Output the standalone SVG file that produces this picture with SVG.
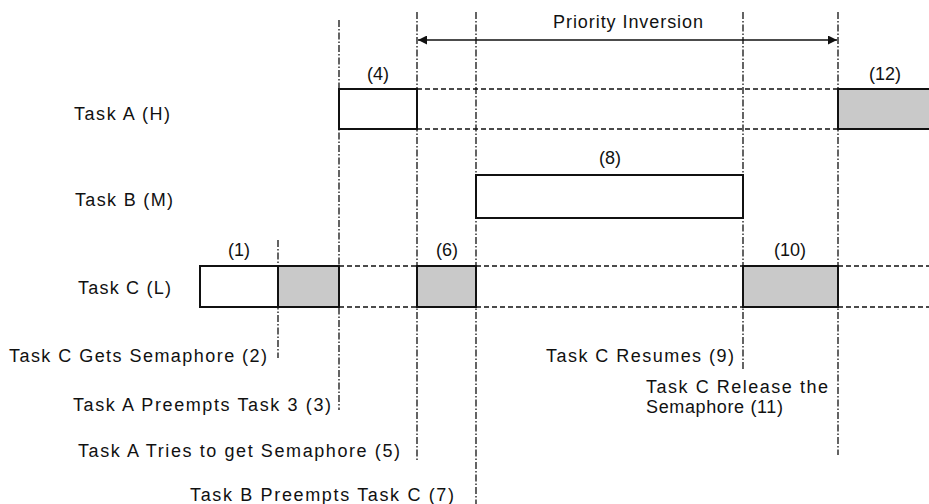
<svg xmlns="http://www.w3.org/2000/svg" width="929" height="504" viewBox="0 0 929 504">
<style>
text{font-family:"Liberation Sans",Arial,sans-serif;font-size:18px;fill:#111}
.box{stroke:#111;stroke-width:2}
.w{fill:#fff}
.g{fill:#c9c9c9}
.dd{stroke:#111;stroke-width:1.3;stroke-dasharray:7 2 1.5 2;fill:none}
.dash{stroke:#111;stroke-width:1.3;stroke-dasharray:5 3;fill:none}
.arr{stroke:#111;stroke-width:1.5;fill:none}
</style>
<defs>
<marker id="ah" viewBox="0 0 10 10" refX="10" refY="5" markerWidth="12" markerHeight="9" markerUnits="userSpaceOnUse" orient="auto-start-reverse">
<path d="M0,0 L10,5 L0,10 z" fill="#111"/>
</marker>
</defs>
<rect width="929" height="504" fill="#fff"/>
<g id="connectors">
<line class="dd" x1="278" y1="240" x2="278" y2="358"/>
<line class="dd" x1="339" y1="20" x2="339" y2="410"/>
<line class="dd" x1="417" y1="12" x2="417" y2="460"/>
<line class="dd" x1="476" y1="12" x2="476" y2="504"/>
<line class="dd" x1="743" y1="12" x2="743" y2="370"/>
<line class="dd" x1="838" y1="12" x2="838" y2="455"/>
<line class="dash" x1="417" y1="89" x2="838" y2="89"/>
<line class="dash" x1="417" y1="129" x2="838" y2="129"/>
<line class="dash" x1="339" y1="266" x2="417" y2="266"/>
<line class="dash" x1="339" y1="307" x2="417" y2="307"/>
<line class="dash" x1="476" y1="266" x2="743" y2="266"/>
<line class="dash" x1="476" y1="307" x2="743" y2="307"/>
<line class="dash" x1="838" y1="266" x2="929" y2="266"/>
<line class="dash" x1="838" y1="307" x2="929" y2="307"/>
<line class="arr" x1="418" y1="40" x2="837" y2="40" marker-start="url(#ah)" marker-end="url(#ah)"/>
</g>
<g id="labels">
<text x="553" y="28" textLength="150" lengthAdjust="spacing">Priority Inversion</text>
<text x="74" y="120" textLength="96" lengthAdjust="spacing">Task A (H)</text>
<text x="75" y="206" textLength="98" lengthAdjust="spacing">Task B (M)</text>
<text x="78" y="294" textLength="93" lengthAdjust="spacing">Task C (L)</text>
</g>
<g id="n1"><rect class="box w" x="200" y="266" width="78" height="41"/><text x="239" y="256" text-anchor="middle">(1)</text></g>
<g id="n2"><rect class="box g" x="278" y="266" width="61" height="41"/><text x="9" y="362" textLength="258" lengthAdjust="spacing">Task C Gets Semaphore (2)</text></g>
<g id="n3"><text x="73" y="411" textLength="258" lengthAdjust="spacing">Task A Preempts Task 3 (3)</text></g>
<g id="n4"><rect class="box w" x="339" y="89" width="78" height="40"/><text x="378" y="80" text-anchor="middle">(4)</text></g>
<g id="n5"><text x="78" y="457" textLength="322" lengthAdjust="spacing">Task A Tries to get Semaphore (5)</text></g>
<g id="n6"><rect class="box g" x="417" y="266" width="59" height="41"/><text x="447" y="256" text-anchor="middle">(6)</text></g>
<g id="n7"><text x="190" y="501" textLength="264" lengthAdjust="spacing">Task B Preempts Task C (7)</text></g>
<g id="n8"><rect class="box w" x="476" y="175" width="267" height="43"/><text x="610" y="164" text-anchor="middle">(8)</text></g>
<g id="n9"><text x="546" y="362" textLength="188" lengthAdjust="spacing">Task C Resumes (9)</text></g>
<g id="n10"><rect class="box g" x="743" y="266" width="95" height="41"/><text x="790" y="256" text-anchor="middle">(10)</text></g>
<g id="n11"><text x="646" y="393" textLength="182" lengthAdjust="spacing">Task C Release the</text><text x="646" y="413" textLength="137" lengthAdjust="spacing">Semaphore (11)</text></g>
<g id="n12"><rect class="box g" x="838" y="89" width="93" height="40"/><text x="885" y="80" text-anchor="middle">(12)</text></g>
</svg>
